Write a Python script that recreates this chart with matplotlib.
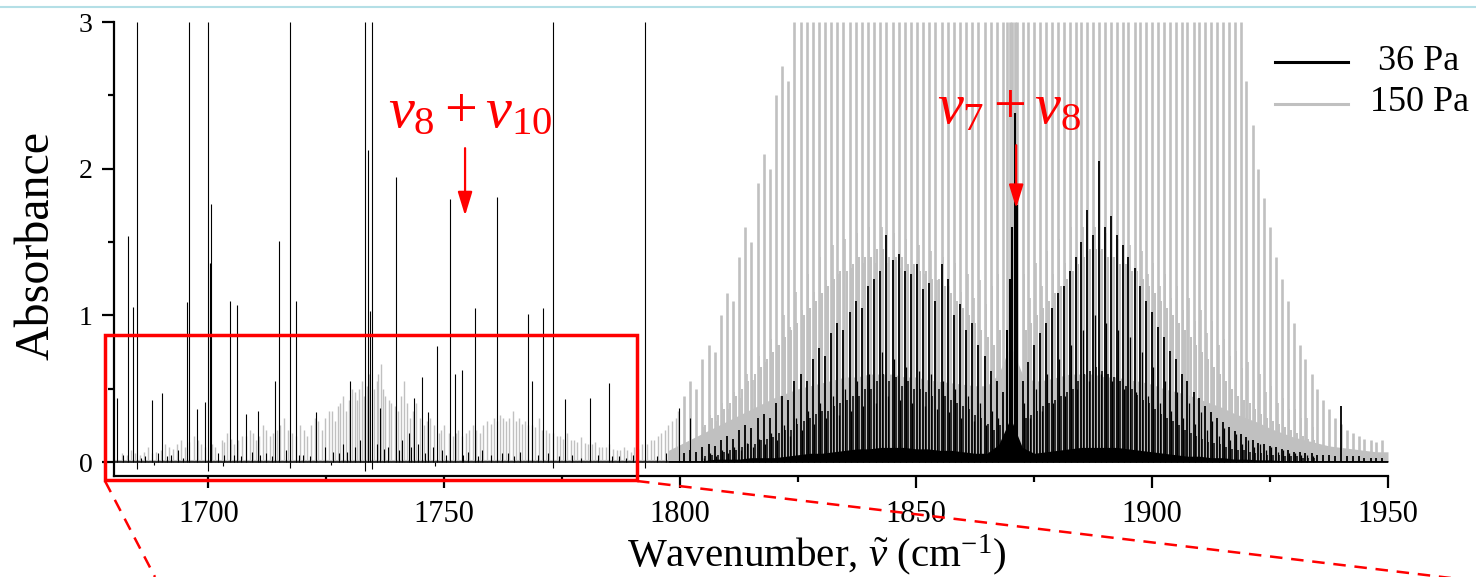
import matplotlib
matplotlib.use("Agg")
import matplotlib.pyplot as plt
from matplotlib.lines import Line2D
from matplotlib.patches import Rectangle

plt.rcParams['font.family'] = ['Liberation Serif', 'DejaVu Serif']
plt.rcParams['mathtext.fontset'] = 'custom'
plt.rcParams['mathtext.rm'] = 'Liberation Serif'
plt.rcParams['mathtext.it'] = 'Liberation Serif:italic'
plt.rcParams['mathtext.bf'] = 'Liberation Serif:bold'

# ---------------- data ----------------
# isolated lines below 1800 cm-1, 36 Pa (black)
left_black_pos = [1680.6, 1683.0, 1684.0, 1684.9, 1688.1, 1690.2, 1695.5, 1695.9, 1697.6, 1699.3,
                  1699.9, 1700.3, 1700.6, 1704.6, 1706.1, 1708.0, 1710.5, 1714.1, 1715.0, 1717.3,
                  1718.6, 1722.8, 1730.0, 1733.2, 1733.8, 1734.2, 1734.7, 1736.4, 1739.7, 1743.6,
                  1745.3, 1746.5, 1748.4, 1751.2, 1752.2, 1753.7, 1756.5, 1761.1, 1767.7, 1768.6,
                  1770.9, 1773.0, 1775.6, 1780.8, 1784.9, 1792.5, 1799.7, 1802.0]
left_black_h = [0.44, 1.54, 1.06, 3.0, 0.42, 0.47, 1.09, 3.0, 0.36, 0.41,
                3.0, 1.36, 1.76, 1.10, 1.07, 0.33, 0.35, 0.55, 1.51, 3.0,
                1.10, 0.34, 0.55, 3.0, 2.13, 1.03, 3.0, 0.37, 1.94, 0.44,
                0.58, 0.34, 0.79, 1.79, 0.60, 0.63, 1.05, 1.81, 1.01, 0.55,
                1.05, 3.0, 0.43, 0.44, 0.54, 3.0, 0.37, 0.30]

# weak lines / noise below 1800 cm-1, 36 Pa
small_black_pos = [1682.0, 1686.5, 1689.3, 1692.0, 1693.5, 1702.0, 1703.3, 1709.2, 1712.3, 1716.5,
                   1720.0, 1724.8, 1726.5, 1728.5, 1731.0, 1732.2, 1735.8, 1738.0, 1741.0, 1742.5,
                   1744.5, 1747.5, 1749.5, 1755.0, 1758.0, 1763.5, 1766.0, 1772.0, 1777.0, 1782.5,
                   1787.0, 1790.0, 1795.0, 1797.0, 1685.8, 1691.2, 1694.6, 1705.4, 1707.0, 1711.0,
                   1713.4, 1719.2, 1721.5, 1727.6, 1729.4, 1737.2, 1740.4, 1743.0, 1745.9, 1750.3,
                   1754.0, 1757.2, 1760.0, 1762.2, 1764.8, 1769.8, 1774.4, 1779.0, 1785.6, 1788.6]
small_black_h = [0.05, 0.04, 0.06, 0.05, 0.08, 0.06, 0.05, 0.07, 0.06, 0.08,
                 0.05, 0.10, 0.07, 0.12, 0.10, 0.15, 0.12, 0.10, 0.15, 0.20,
                 0.12, 0.10, 0.08, 0.07, 0.08, 0.06, 0.07, 0.06, 0.05, 0.05,
                 0.04, 0.05, 0.04, 0.06, 0.03, 0.04, 0.03, 0.05, 0.04, 0.05,
                 0.04, 0.05, 0.04, 0.06, 0.07, 0.09, 0.08, 0.10, 0.06, 0.05,
                 0.05, 0.04, 0.05, 0.06, 0.04, 0.05, 0.04, 0.03, 0.04, 0.03]
dip_pos = [1684.9, 1699.9, 1717.3, 1733.2, 1734.7, 1773.0, 1792.5, 1688.5, 1703.0, 1726.0, 1748.0]
dip_h = [-0.05, -0.06, -0.04, -0.06, -0.05, -0.04, -0.04, -0.02, -0.03, -0.02, -0.03]

# weak lines below 1800 cm-1, 150 Pa (grey)
left_grey_pos = [1681.8, 1683.6, 1685.5, 1687.2, 1689.0, 1690.9, 1692.5, 1694.1, 1695.0, 1697.0,
                 1698.4, 1701.5, 1702.8, 1704.0, 1705.5, 1707.2, 1708.8, 1710.0, 1711.6, 1713.0,
                 1714.5, 1716.0, 1717.8, 1719.5, 1721.0, 1722.5, 1724.0, 1725.5, 1726.8, 1728.0,
                 1729.2, 1730.5, 1731.5, 1732.5, 1734.0, 1735.2, 1736.5, 1737.5, 1738.8, 1740.2,
                 1741.5, 1742.8, 1744.0, 1745.8, 1747.0, 1748.8, 1750.0, 1751.8, 1753.0, 1754.5,
                 1756.0, 1757.5, 1759.0, 1760.5, 1761.8, 1763.0, 1764.5, 1765.8, 1767.0, 1768.5,
                 1770.0, 1771.5, 1773.0, 1774.5, 1776.0, 1777.5, 1779.0, 1780.5, 1782.0, 1783.5,
                 1785.0, 1786.5, 1788.0, 1789.5, 1791.0, 1793.0, 1794.5, 1796.0, 1797.5, 1799.0]
left_grey_h = [0.06, 0.08, 0.05, 0.10, 0.07, 0.12, 0.09, 0.15, 0.10, 0.18,
               0.12, 0.10, 0.15, 0.20, 0.12, 0.18, 0.22, 0.15, 0.25, 0.18,
               0.22, 0.30, 0.20, 0.25, 0.18, 0.30, 0.22, 0.35, 0.28, 0.40,
               0.35, 0.50, 0.42, 0.55, 0.60, 0.50, 0.67, 0.45, 0.40, 0.35,
               0.55, 0.30, 0.40, 0.25, 0.30, 0.20, 0.25, 0.18, 0.22, 0.20,
               0.25, 0.20, 0.28, 0.30, 0.32, 0.28, 0.35, 0.30, 0.28, 0.25,
               0.30, 0.22, 0.20, 0.18, 0.20, 0.15, 0.17, 0.12, 0.14, 0.10,
               0.12, 0.08, 0.10, 0.07, 0.09, 0.12, 0.15, 0.20, 0.25, 0.30]
left_grey2_pos = [1682.7, 1684.5, 1686.3, 1688.1, 1689.9, 1691.7, 1693.3, 1696.0, 1697.7, 1699.2,
                  1700.8, 1703.4, 1704.8, 1706.3, 1708.0, 1709.4, 1710.8, 1712.3, 1713.8, 1715.2,
                  1716.8, 1718.6, 1720.2, 1721.8, 1723.2, 1724.8, 1726.2, 1727.4, 1728.6, 1729.8,
                  1731.0, 1732.0, 1733.0, 1733.6, 1735.7, 1736.0, 1737.0, 1738.2, 1739.5, 1740.8,
                  1742.2, 1743.4, 1744.9, 1746.4, 1747.9, 1749.4, 1750.9, 1752.4, 1753.8, 1755.2,
                  1756.8, 1758.2, 1759.8, 1761.2, 1762.4, 1763.8, 1765.2, 1766.4, 1767.8, 1769.2,
                  1770.8, 1772.2, 1773.8, 1775.2, 1776.8, 1778.2, 1779.8, 1781.2, 1782.8, 1784.2,
                  1785.8, 1787.2, 1788.8, 1790.2, 1791.8, 1793.8, 1795.2, 1796.8, 1798.2, 1799.6]
left_grey2_h = [0.05, 0.06, 0.07, 0.06, 0.08, 0.10, 0.12, 0.14, 0.15, 0.10,
                0.12, 0.14, 0.16, 0.15, 0.18, 0.20, 0.18, 0.22, 0.20, 0.25,
                0.22, 0.18, 0.22, 0.25, 0.28, 0.30, 0.35, 0.38, 0.45, 0.42,
                0.48, 0.50, 0.45, 0.52, 0.55, 0.60, 0.50, 0.42, 0.38, 0.45,
                0.40, 0.35, 0.30, 0.28, 0.25, 0.22, 0.20, 0.20, 0.18, 0.22,
                0.22, 0.25, 0.26, 0.28, 0.30, 0.30, 0.28, 0.26, 0.25, 0.24,
                0.22, 0.20, 0.18, 0.16, 0.15, 0.14, 0.13, 0.12, 0.10, 0.10,
                0.09, 0.08, 0.08, 0.10, 0.12, 0.15, 0.18, 0.22, 0.28, 0.35]

# nu7+nu8 band: P branch, Q branch, R branch (strong lines)
p_pos = [1800.8, 1802.1, 1803.4, 1804.7, 1806.0, 1807.3, 1808.6, 1809.9, 1811.2, 1812.5,
         1813.8, 1815.1, 1816.4, 1817.7, 1819.0, 1820.3, 1821.6, 1822.9, 1824.2, 1825.5,
         1826.8, 1828.1, 1829.4, 1830.7, 1832.0, 1833.3, 1834.6, 1835.9, 1837.2, 1838.5,
         1839.8, 1841.1, 1842.4, 1843.7, 1845.0, 1846.3, 1847.6, 1848.9, 1850.2, 1851.5,
         1852.8, 1854.1, 1855.4, 1856.7, 1858.0, 1859.3, 1860.6, 1861.9, 1863.2, 1864.5,
         1865.8, 1867.1, 1868.4]
p_black = [0.06, 0.08, 0.07, 0.10, 0.12, 0.11, 0.15, 0.18, 0.16, 0.22,
           0.25, 0.23, 0.30, 0.33, 0.30, 0.40, 0.45, 0.42, 0.55, 0.60,
           0.55, 0.70, 0.78, 0.72, 0.88, 0.95, 0.90, 1.02, 1.10, 1.05,
           1.20, 1.25, 1.30, 1.55, 1.38, 1.42, 1.30, 1.28, 1.35, 1.18,
           1.22, 1.10, 1.35, 1.25, 1.00, 1.08, 0.90, 0.95, 0.80, 0.72,
           0.62, 0.55, 0.48]
p_grey = [0.45, 0.55, 0.50, 0.70, 0.80, 0.75, 1.00, 1.15, 1.10, 1.40,
          1.60, 1.50, 1.90, 2.10, 2.00, 2.50, 2.70, 2.60, 3.0, 3.0,
          3.0, 3.0, 3.0, 3.0, 3.0, 3.0, 3.0, 3.0, 3.0, 3.0,
          3.0, 3.0, 3.0, 3.0, 3.0, 3.0, 3.0, 3.0, 3.0, 3.0,
          3.0, 3.0, 3.0, 3.0, 3.0, 3.0, 3.0, 3.0, 3.0, 3.0,
          3.0, 3.0, 3.0]

q_pos = [1869.3, 1869.9, 1870.4, 1870.9, 1871.3]
q_black = [0.90, 1.25, 1.60, 2.38, 1.75]
q_grey = [3.0, 3.0, 3.0, 3.0, 3.0]

r_pos = [1872.6, 1873.8, 1875.0, 1876.3, 1877.5, 1878.8, 1880.0, 1881.3, 1882.5, 1883.8,
         1885.0, 1886.3, 1887.5, 1888.8, 1890.0, 1891.3, 1892.5, 1893.8, 1895.0, 1896.3,
         1897.5, 1898.8, 1900.0, 1901.3, 1902.5, 1903.8, 1905.0, 1906.3, 1907.5, 1908.8,
         1910.0, 1911.3, 1912.5, 1913.8, 1915.0, 1916.3, 1917.5, 1918.8, 1920.0, 1921.3,
         1922.5, 1923.8, 1925.0, 1926.3, 1927.5, 1928.8, 1930.0, 1931.3, 1932.5, 1933.8,
         1935.0, 1936.3, 1937.5, 1938.8, 1940.0, 1941.3, 1942.5, 1943.8, 1945.0, 1946.3,
         1947.5, 1948.8]
r_black = [0.55, 0.68, 0.80, 0.88, 0.95, 1.05, 1.15, 1.20, 1.30, 1.40,
           1.50, 1.72, 1.55, 2.05, 1.60, 1.68, 1.55, 1.48, 1.40, 1.32,
           1.20, 1.10, 1.02, 0.92, 0.85, 0.76, 0.70, 0.60, 0.55, 0.48,
           0.44, 0.38, 0.34, 0.30, 0.27, 0.24, 0.21, 0.19, 0.17, 0.15,
           0.13, 0.12, 0.11, 0.10, 0.09, 0.08, 0.07, 0.07, 0.06, 0.06,
           0.05, 0.05, 0.05, 0.04, 0.38, 0.04, 0.04, 0.04, 0.03, 0.03,
           0.03, 0.03]
r_grey = [3.0, 3.0, 3.0, 3.0, 3.0, 3.0, 3.0, 3.0, 3.0, 3.0,
          3.0, 3.0, 3.0, 3.0, 3.0, 3.0, 3.0, 3.0, 3.0, 3.0,
          3.0, 3.0, 3.0, 3.0, 3.0, 3.0, 3.0, 3.0, 3.0, 3.0,
          3.0, 3.0, 3.0, 3.0, 3.0, 3.0, 3.0, 3.0, 2.60, 2.30,
          2.00, 1.80, 1.60, 1.40, 1.25, 1.10, 0.95, 0.80, 0.70, 0.60,
          0.50, 0.42, 0.36, 0.30, 0.26, 0.22, 0.20, 0.18, 0.16, 0.15,
          0.14, 0.15]

# weaker interleaved lines of the band
wp_pos = [1805.35, 1806.65, 1807.95, 1809.25, 1810.55, 1811.85, 1813.15, 1814.45, 1815.75, 1817.05,
          1818.35, 1819.65, 1820.95, 1822.25, 1823.55, 1824.85, 1826.15, 1827.45, 1828.75, 1830.05,
          1831.35, 1832.65, 1833.95, 1835.25, 1836.55, 1837.85, 1839.15, 1840.45, 1841.75, 1843.05,
          1844.35, 1845.65, 1846.95, 1848.25, 1849.55, 1850.85, 1852.15, 1853.45, 1854.75, 1856.05,
          1857.35, 1858.65, 1859.95, 1861.25, 1862.55, 1863.85, 1865.15, 1866.45, 1867.75]
wp_black = [0.04, 0.05, 0.05, 0.07, 0.08, 0.08, 0.10, 0.12, 0.12, 0.15,
            0.16, 0.17, 0.20, 0.22, 0.22, 0.26, 0.28, 0.30, 0.33, 0.35,
            0.35, 0.38, 0.40, 0.42, 0.45, 0.45, 0.50, 0.50, 0.55, 0.60,
            0.55, 0.58, 0.52, 0.55, 0.50, 0.50, 0.48, 0.45, 0.50, 0.45,
            0.42, 0.40, 0.38, 0.36, 0.32, 0.30, 0.26, 0.22, 0.25]
wp_grey = [0.25, 0.30, 0.32, 0.36, 0.40, 0.45, 0.50, 0.55, 0.60, 0.65,
           0.70, 0.75, 0.80, 0.85, 0.90, 0.95, 1.00, 1.05, 1.10, 1.15,
           1.20, 1.25, 1.30, 1.30, 1.35, 1.40, 1.40, 1.40, 1.45, 1.45,
           1.40, 1.40, 1.40, 1.35, 1.35, 1.30, 1.30, 1.25, 1.25, 1.20,
           1.15, 1.10, 1.05, 1.00, 0.95, 0.90, 0.85, 0.80, 0.90]
wr_pos = [1873.2, 1874.4, 1875.65, 1876.9, 1878.15, 1879.4, 1880.65, 1881.9, 1883.15, 1884.4,
          1885.65, 1886.9, 1888.15, 1889.4, 1890.65, 1891.9, 1893.15, 1894.4, 1895.65, 1896.9,
          1898.15, 1899.4, 1900.65, 1901.9, 1903.15, 1904.4, 1905.65, 1906.9, 1908.15, 1909.4,
          1910.65, 1911.9, 1913.15, 1914.4, 1915.65, 1916.9, 1918.15, 1919.4, 1920.65, 1921.9,
          1923.15, 1924.4, 1925.65, 1926.9, 1928.15, 1929.4, 1930.65, 1931.9, 1933.15, 1934.4]
wr_black = [0.30, 0.32, 0.35, 0.38, 0.40, 0.42, 0.45, 0.48, 0.50, 0.55,
            0.60, 0.62, 0.65, 0.62, 0.60, 0.58, 0.55, 0.52, 0.50, 0.46,
            0.42, 0.40, 0.36, 0.33, 0.30, 0.28, 0.25, 0.22, 0.20, 0.18,
            0.16, 0.14, 0.13, 0.12, 0.10, 0.09, 0.08, 0.08, 0.07, 0.06,
            0.06, 0.05, 0.05, 0.05, 0.04, 0.04, 0.04, 0.03, 0.03, 0.03]
wr_grey = [0.90, 0.95, 1.00, 1.05, 1.10, 1.15, 1.20, 1.25, 1.30, 1.35,
           1.40, 1.45, 1.45, 1.45, 1.40, 1.40, 1.35, 1.35, 1.30, 1.30,
           1.25, 1.20, 1.15, 1.10, 1.05, 1.00, 0.95, 0.90, 0.85, 0.80,
           0.75, 0.70, 0.65, 0.60, 0.55, 0.50, 0.45, 0.42, 0.40, 0.36,
           0.33, 0.30, 0.28, 0.26, 0.24, 0.22, 0.20, 0.18, 0.16, 0.15]

# third family of band lines (hot band), P side and R side
fp_pos = [1805.0, 1806.3, 1807.6, 1808.9, 1810.2, 1811.5, 1812.8, 1814.1, 1815.4, 1816.7,
          1818.0, 1819.3, 1820.6, 1821.9, 1823.2, 1824.5, 1825.8, 1827.1, 1828.4, 1829.7,
          1831.0, 1832.3, 1833.6, 1834.9, 1836.2, 1837.5, 1838.8, 1840.1, 1841.4, 1842.7,
          1844.0, 1845.3, 1846.6, 1847.9, 1849.2, 1850.5, 1851.8, 1853.1, 1854.4, 1855.7,
          1857.0, 1858.3, 1859.6, 1860.9, 1862.2, 1863.5, 1864.8, 1866.1, 1867.4]
fp_black = [0.03, 0.06, 0.04, 0.08, 0.06, 0.10, 0.08, 0.13, 0.10, 0.16,
            0.12, 0.20, 0.15, 0.25, 0.18, 0.30, 0.22, 0.35, 0.26, 0.40,
            0.30, 0.45, 0.32, 0.50, 0.35, 0.55, 0.38, 0.60, 0.40, 0.75,
            0.45, 0.70, 0.42, 0.65, 0.40, 0.62, 0.38, 0.60, 0.36, 0.55,
            0.34, 0.50, 0.30, 0.45, 0.28, 0.40, 0.25, 0.35, 0.30]
fp_grey = [0.24, 0.32, 0.28, 0.40, 0.36, 0.48, 0.44, 0.60, 0.56, 0.72,
           0.68, 0.84, 0.80, 1.00, 0.92, 1.16, 1.04, 1.28, 1.16, 1.40,
           1.24, 1.48, 1.28, 1.52, 1.32, 1.56, 1.36, 1.60, 1.36, 1.60,
           1.36, 1.56, 1.32, 1.52, 1.28, 1.48, 1.28, 1.44, 1.24, 1.40,
           1.20, 1.36, 1.16, 1.28, 1.12, 1.24, 1.08, 1.20, 1.28]
fr_pos = [1872.9, 1874.1, 1875.3, 1876.6, 1877.8, 1879.1, 1880.3, 1881.6, 1882.8, 1884.1,
          1885.3, 1886.6, 1887.8, 1889.1, 1890.3, 1891.6, 1892.8, 1894.1, 1895.3, 1896.6,
          1897.8, 1899.1, 1900.3, 1901.6, 1902.8, 1904.1, 1905.3, 1906.6, 1907.8, 1909.1,
          1910.3, 1911.6, 1912.8, 1914.1, 1915.3, 1916.6, 1917.8, 1919.1, 1920.3, 1921.6,
          1922.8, 1924.1, 1925.3, 1926.6, 1927.8, 1929.1, 1930.3, 1931.6, 1932.8, 1934.1]
fr_black = [0.40, 0.30, 0.50, 0.35, 0.60, 0.40, 0.70, 0.45, 0.80, 0.50,
            0.90, 0.55, 1.00, 0.60, 0.95, 0.55, 0.90, 0.50, 0.85, 0.48,
            0.75, 0.45, 0.65, 0.40, 0.55, 0.35, 0.48, 0.30, 0.40, 0.26,
            0.34, 0.22, 0.28, 0.18, 0.23, 0.15, 0.19, 0.12, 0.15, 0.10,
            0.12, 0.08, 0.10, 0.07, 0.08, 0.06, 0.06, 0.05, 0.05, 0.04]
fr_grey = [1.28, 1.12, 1.36, 1.20, 1.44, 1.28, 1.52, 1.36, 1.60, 1.40,
           1.60, 1.44, 1.60, 1.44, 1.56, 1.40, 1.52, 1.36, 1.48, 1.32,
           1.44, 1.28, 1.36, 1.20, 1.28, 1.12, 1.20, 1.04, 1.12, 0.96,
           1.04, 0.88, 0.96, 0.80, 0.84, 0.72, 0.76, 0.64, 0.68, 0.56,
           0.60, 0.48, 0.52, 0.40, 0.44, 0.36, 0.36, 0.30, 0.30, 0.24]

# dense unresolved line forest at the foot of the band (envelope)
forest_pos = [1797.5, 1800.0, 1802.5, 1805.0, 1807.5, 1810.0, 1812.5, 1815.0, 1817.5, 1820.0,
              1822.5, 1825.0, 1827.5, 1830.0, 1832.5, 1835.0, 1837.5, 1840.0, 1842.5, 1845.0,
              1847.5, 1850.0, 1852.5, 1855.0, 1857.5, 1860.0, 1862.5, 1865.0, 1867.5, 1870.0,
              1872.5, 1875.0, 1877.5, 1880.0, 1882.5, 1885.0, 1887.5, 1890.0, 1892.5, 1895.0,
              1897.5, 1900.0, 1902.5, 1905.0, 1907.5, 1910.0, 1912.5, 1915.0, 1917.5, 1920.0,
              1922.5, 1925.0, 1927.5, 1930.0, 1932.5, 1935.0, 1937.5, 1940.0, 1942.5, 1945.0,
              1947.5, 1950.0]
forest_black = [0.01, 0.01, 0.01, 0.01, 0.02, 0.02, 0.02, 0.03, 0.03, 0.03,
                0.04, 0.05, 0.06, 0.06, 0.07, 0.08, 0.09, 0.09, 0.10, 0.10,
                0.10, 0.09, 0.09, 0.08, 0.08, 0.07, 0.06, 0.06, 0.12, 0.30,
                0.10, 0.06, 0.07, 0.08, 0.09, 0.10, 0.10, 0.10, 0.10, 0.09,
                0.08, 0.07, 0.06, 0.05, 0.04, 0.04, 0.03, 0.03, 0.02, 0.02,
                0.015, 0.015, 0.01, 0.01, 0.01, 0.01, 0.01, 0.01, 0.01, 0.01,
                0.01, 0.01]
forest_grey = [0.08, 0.12, 0.16, 0.20, 0.24, 0.28, 0.32, 0.36, 0.40, 0.44,
               0.47, 0.50, 0.52, 0.54, 0.56, 0.58, 0.58, 0.60, 0.60, 0.60,
               0.58, 0.58, 0.56, 0.55, 0.54, 0.53, 0.52, 0.52, 0.60, 0.80,
               0.60, 0.55, 0.56, 0.58, 0.60, 0.60, 0.60, 0.58, 0.58, 0.56,
               0.55, 0.53, 0.50, 0.48, 0.46, 0.43, 0.40, 0.37, 0.33, 0.30,
               0.27, 0.23, 0.20, 0.17, 0.15, 0.13, 0.11, 0.10, 0.09, 0.08,
               0.07, 0.07]

x_ticks = [1700, 1750, 1800, 1850, 1900, 1950]
x_minor = [1725, 1775, 1825, 1875, 1925]
y_ticks = [0, 1, 2, 3]
y_minor = [0.5, 1.5, 2.5]
series_labels = ['36 Pa', '150 Pa']
band_labels = [r'$v_8+v_{10}$', r'$v_7+v_8$']
band_pos = [1754.4, 1871.2]

# ---------------- figure ----------------
W, H = 1476, 577
fig = plt.figure(figsize=(W / 100, H / 100), dpi=100)


def fx(px):
    return px / W


def fy(py):
    return 1 - py / H


ax = fig.add_axes([fx(114), fy(476), fx(1388) - fx(114), fy(22) - fy(476)])
ax.set_xlim(1680, 1950)
ax.set_ylim(-0.095, 3.0)

GREY = '#c0c0c0'
# grey (150 Pa) spectrum
ax.fill_between(forest_pos, 0, forest_grey, color=GREY, lw=0, zorder=0.9)
ax.vlines(left_grey_pos, 0, left_grey_h, colors=GREY, lw=1.0, zorder=1)
ax.vlines(left_grey2_pos, 0, left_grey2_h, colors=GREY, lw=1.0, zorder=1)
ax.vlines(fp_pos, 0, fp_grey, colors=GREY, lw=1.2, zorder=1)
ax.vlines(fr_pos, 0, fr_grey, colors=GREY, lw=1.2, zorder=1)
ax.vlines(wp_pos, 0, wp_grey, colors=GREY, lw=1.4, zorder=1)
ax.vlines(wr_pos, 0, wr_grey, colors=GREY, lw=1.4, zorder=1)
ax.vlines(p_pos, 0, p_grey, colors=GREY, lw=1.9, zorder=1)
ax.vlines(q_pos, 0, q_grey, colors=GREY, lw=1.9, zorder=1)
ax.vlines(r_pos, 0, r_grey, colors=GREY, lw=1.9, zorder=1)
ax.plot([1680, 1950], [0.01, 0.01], color=GREY, lw=1.5, zorder=1)

# black (36 Pa) spectrum
ax.fill_between(forest_pos, 0, forest_black, color='black', lw=0, zorder=1.9)
ax.vlines(fp_pos, 0, fp_black, colors='black', lw=0.9, zorder=2)
ax.vlines(fr_pos, 0, fr_black, colors='black', lw=0.9, zorder=2)
ax.vlines(wp_pos, 0, wp_black, colors='black', lw=1.1, zorder=2)
ax.vlines(wr_pos, 0, wr_black, colors='black', lw=1.1, zorder=2)
ax.vlines(p_pos, 0, p_black, colors='black', lw=1.3, zorder=2)
ax.vlines(q_pos, 0, q_black, colors='black', lw=1.5, zorder=2)
ax.vlines(r_pos, 0, r_black, colors='black', lw=1.3, zorder=2)
ax.vlines(left_black_pos, 0, left_black_h, colors='black', lw=0.8, zorder=2)
ax.vlines(small_black_pos, 0, small_black_h, colors='black', lw=0.8, zorder=2)
ax.vlines(dip_pos, 0, dip_h, colors='black', lw=0.8, zorder=2)
ax.plot([1680, 1950], [0, 0], color='black', lw=1.1, zorder=2)

# axes styling
for s in ['top', 'right']:
    ax.spines[s].set_visible(False)
for s in ['left', 'bottom']:
    ax.spines[s].set_linewidth(1.6)
ax.set_xticks(x_ticks)
ax.set_xticks(x_minor, minor=True)
ax.set_yticks(y_ticks)
ax.set_yticks(y_minor, minor=True)
ax.tick_params(which='major', direction='out', length=8.5, width=1.6)
ax.tick_params(which='minor', direction='out', length=4.5, width=1.6)
ax.tick_params(axis='x', which='major', labelsize=22, pad=9)
ax.tick_params(axis='y', which='major', labelsize=20, pad=7)

fig.text(fx(37), fy(245), 'Absorbance', rotation=90, ha='center', va='center', fontsize=34.5)
fig.text(fx(817), fy(567), r'Wavenumber, $\tilde{v}$ (cm$^{-1}$)', ha='center', va='baseline',
         fontsize=29.5)

# band annotations
ax.text(1755.4, 2.28, band_labels[0], color='red', fontsize=42, ha='center', va='baseline')
ax.text(1869.8, 2.31, band_labels[1], color='red', fontsize=42, ha='center', va='baseline')
ax.annotate('', xy=(band_pos[0], 1.68), xytext=(band_pos[0], 2.14),
            arrowprops=dict(arrowstyle='-|>,head_length=0.72,head_width=0.22',
                            color='red', lw=1.6, mutation_scale=20, shrinkA=0, shrinkB=0))
ax.annotate('', xy=(band_pos[1], 1.73), xytext=(band_pos[1], 2.16),
            arrowprops=dict(arrowstyle='-|>,head_length=0.72,head_width=0.22',
                            color='red', lw=1.6, mutation_scale=20, shrinkA=0, shrinkB=0))

# zoom-in box and dashed guide lines
ax.add_patch(Rectangle((1678.1, -0.119), 1790.8 - 1678.1, 0.866 + 0.119, fill=False,
                       edgecolor='red', lw=2.5, clip_on=False, zorder=5))
fig.add_artist(Line2D([fx(105), fx(155)], [fy(481), fy(577)], color='red', lw=1.8,
                      linestyle=(0, (5, 3.5))))
fig.add_artist(Line2D([fx(637), fx(1476)], [fy(481), fy(581)], color='red', lw=1.8,
                      linestyle=(0, (5, 3.5))))

# light blue page rule at the top
fig.add_artist(Line2D([0, 1], [fy(7), fy(7)], color='#b4dfe6', lw=1.5))

# legend (drawn by hand to match layout)
fig.add_artist(Line2D([fx(1275), fx(1348)], [fy(62), fy(62)], color='black', lw=2.2))
fig.add_artist(Line2D([fx(1275), fx(1348)], [fy(104), fy(104)], color=GREY, lw=2.2))
fig.text(fx(1419), fy(62), series_labels[0], ha='center', va='center', fontsize=26)
fig.text(fx(1419), fy(102), series_labels[1], ha='center', va='center', fontsize=26)

fig.savefig('out.png', dpi=100)
